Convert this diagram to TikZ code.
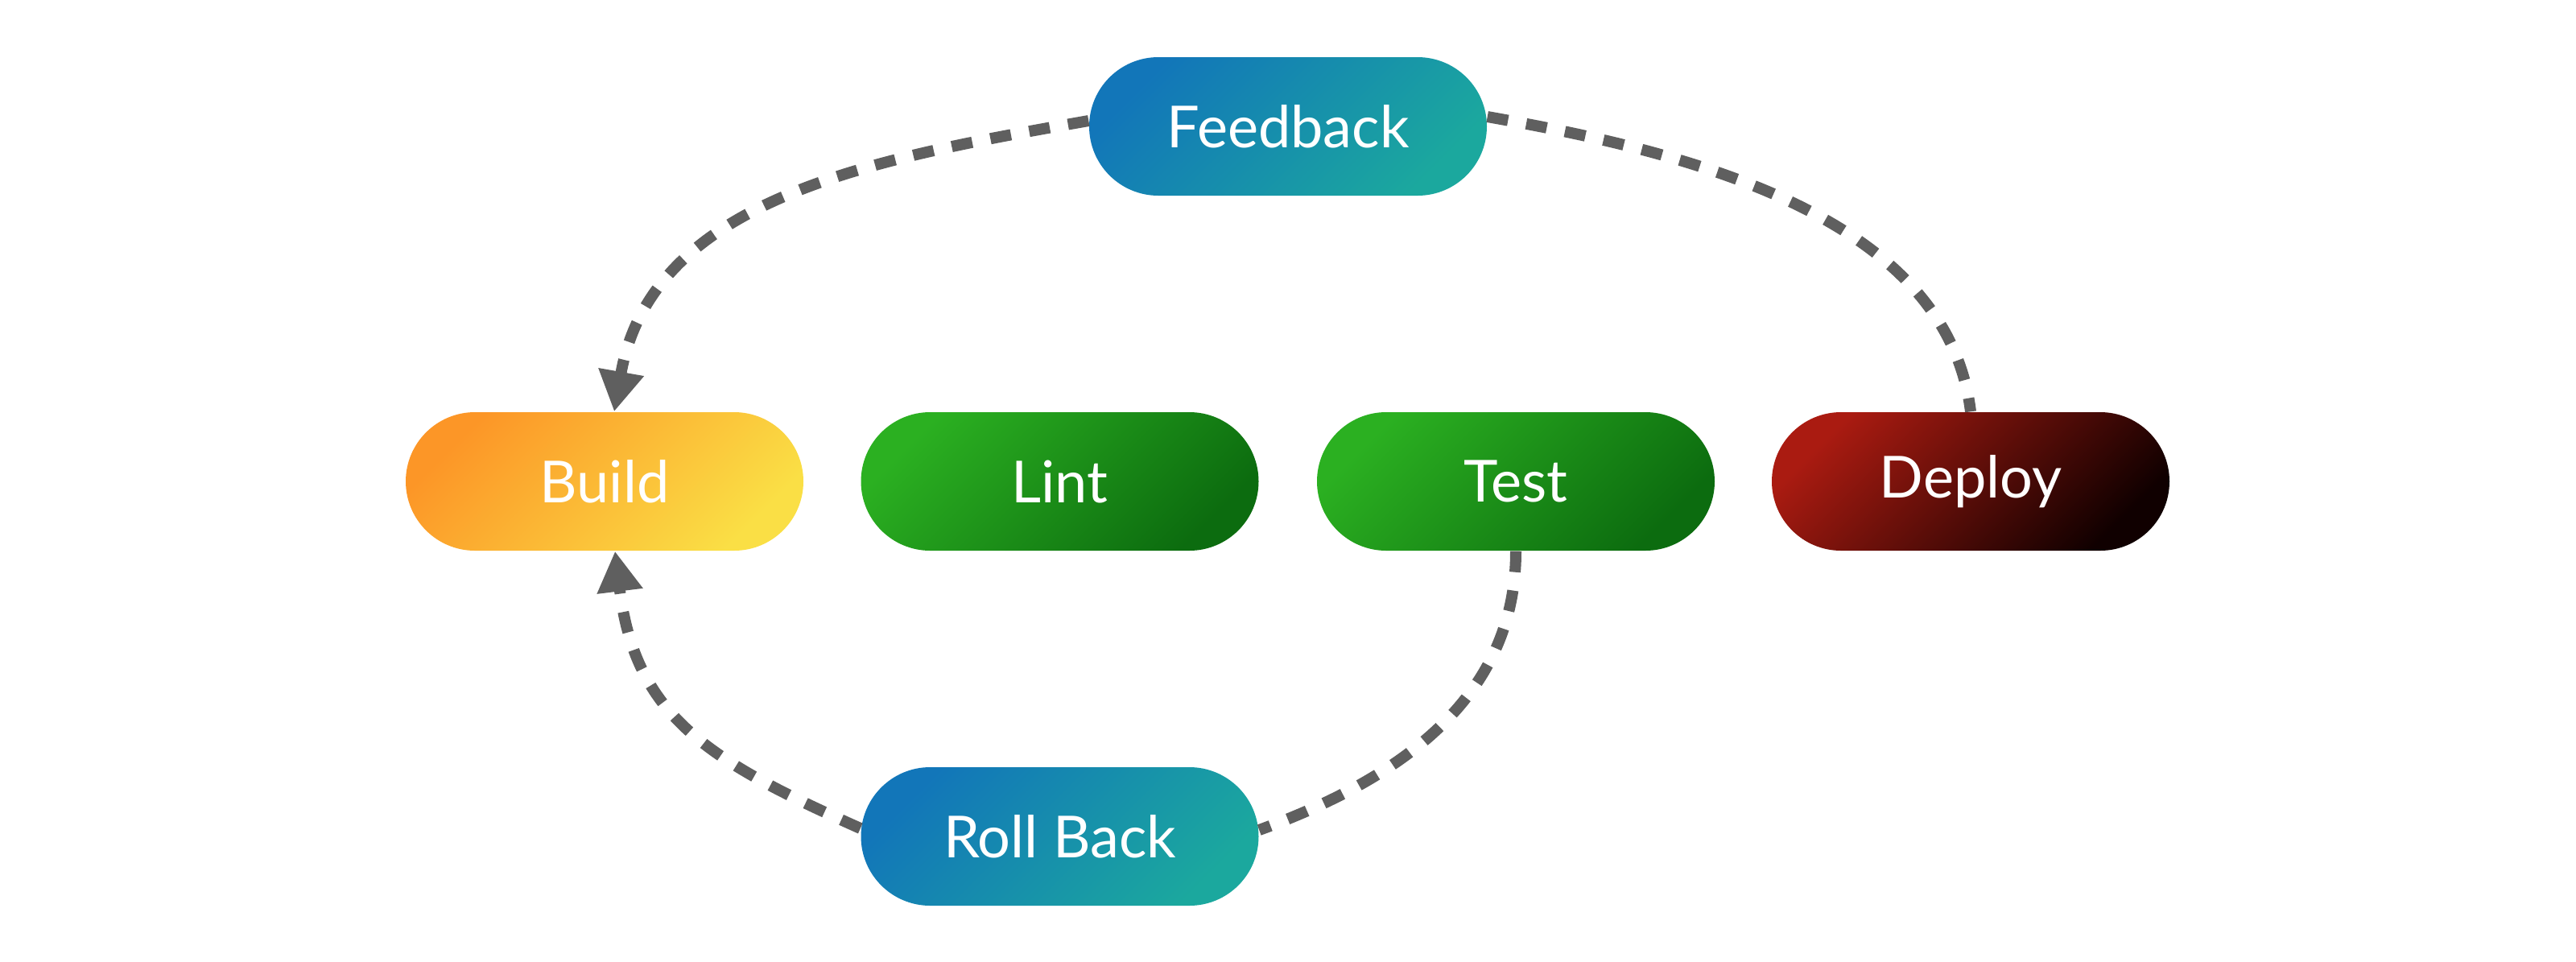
\documentclass[tikz,border=0pt]{standalone}
\usepackage{fontspec}
\setmainfont{Lato}
\usetikzlibrary{arrows.meta}
\definecolor{blueA}{HTML}{1276B9}
\definecolor{blueB}{HTML}{1BA89E}
\definecolor{orA}{HTML}{FC9627}
\definecolor{orB}{HTML}{FADF45}
\definecolor{grA}{HTML}{2BB021}
\definecolor{grB}{HTML}{0C6C0F}
\definecolor{rdA}{HTML}{AA1B11}
\definecolor{rdB}{HTML}{100000}
\definecolor{linegray}{HTML}{5F5F5F}
\begin{document}
\begin{tikzpicture}[
  pill/.style={rectangle, rounded corners=0.86cm, minimum width=4.94cm,
    minimum height=1.72cm, inner sep=0pt, text=white,
    font=\fontsize{20.5}{24}\selectfont},
  bluepill/.style={pill, top color=blueA, bottom color=blueB, shading angle=45},
  orangepill/.style={pill, top color=orA, bottom color=orB, shading angle=45},
  greenpill/.style={pill, top color=grA, bottom color=grB, shading angle=45},
  redpill/.style={pill, top color=rdA, bottom color=rdB, shading angle=45},
  conn/.style={draw=linegray, line width=0.14cm, dash pattern=on 0.26cm off 0.23cm},
  arrowtip/.style={-{Triangle[length=0.5cm,width=0.54cm]}}
]
\useasboundingbox (0,0) rectangle (32,-11.94);
\node[bluepill]   (fb)     at (16.00,-1.57)  {Feedback};
\node[orangepill] (build)  at (7.51,-5.98)   {Build};
\node[greenpill]  (lint)   at (13.165,-5.98) {Lint};
\node[greenpill]  (test)   at (18.83,-5.98)  {Test};
\node[redpill]    (deploy) at (24.48,-5.98)  {Deploy};
\node[bluepill]   (rb)     at (13.165,-10.39){Roll Back};

\draw[conn, arrowtip] ([yshift=0.07cm]fb.west) to[out=190, in=80] ([xshift=0.12cm]build.north);
\draw[conn] ([yshift=0.12cm]fb.east) to[out=-10, in=97, looseness=0.9] (deploy.north);
\draw[conn, arrowtip] ([yshift=0.1cm]rb.west) to[out=156, in=-83, looseness=1.15] ([xshift=0.13cm]build.south);
\draw[conn] (test.south) to[out=-90, in=20] ([yshift=0.08cm]rb.east);
\end{tikzpicture}
\end{document}
